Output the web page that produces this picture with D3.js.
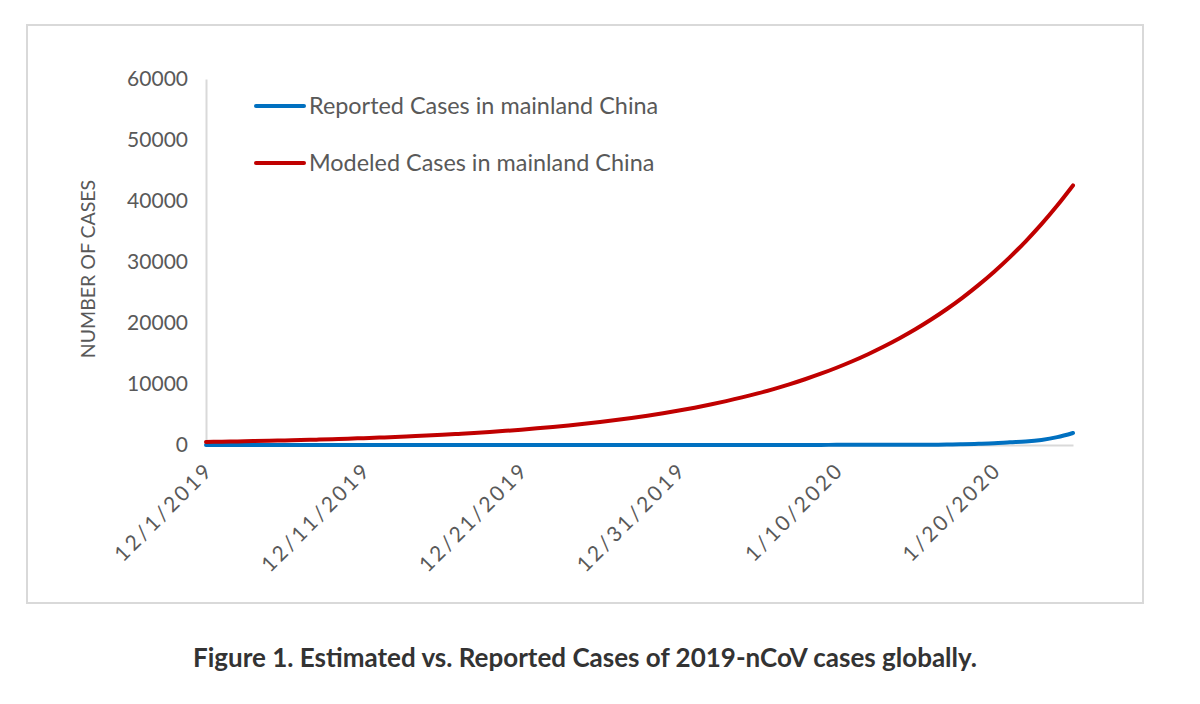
<!DOCTYPE html>
<html><head><meta charset="utf-8">
<script src="https://cdn.jsdelivr.net/npm/d3@7"></script>
<style>
body{margin:0;background:#fff;}
svg{display:block;}
</style></head>
<body>
<svg id="c" width="1200" height="704"></svg>
<script>
const startDate = "2019-12-01";
const dayCount = 56;
const modeled = [500,542,588,637,691,749,812,880,954,1035,1122,1216,1319,1430,1550,1680,1822,1975,2141,2321,2517,2729,2958,3207,3477,3770,4087,4431,4804,5208,5646,6121,6636,7195,7800,8456,9168,9939,10776,11682,12665,13731,14886,16139,17497,18969,20566,22296,24172,26207,28412,30803,33395,36205,39252,42555];
const reported = [0,0,0,0,0,0,0,0,0,0,0,0,0,0,0,0,0,0,0,0,0,0,0,0,0,0,0,0,0,0,0,0,0,0,0,0,0,0,0,0,41,41,41,41,41,41,45,62,121,198,291,440,571,830,1287,1975];
const xTickLabels = ["12/1/2019","12/11/2019","12/21/2019","12/31/2019","1/10/2020","1/20/2020"];
const yTicks = [0,10000,20000,30000,40000,50000,60000];
const seriesNames = ["Reported Cases in mainland China","Modeled Cases in mainland China"];
const seriesColors = ["#0070c0","#c00000"];
const yTitle = "NUMBER OF CASES";
const caption = "Figure 1. Estimated vs. Reported Cases of 2019-nCoV cases globally.";

const svg = d3.select("#c");
const parse = d3.timeParse("%Y-%m-%d");
const t0 = parse(startDate);
const dates = d3.range(dayCount).map(i => d3.timeDay.offset(t0, i));
const parseTick = d3.timeParse("%m/%d/%Y");
const tickDates = xTickLabels.map(s => parseTick(s));

// outer frame
svg.append("rect").attr("x",27).attr("y",25).attr("width",1116).attr("height",578)
  .attr("fill","#fff").attr("stroke","#d9d9d9").attr("stroke-width",2);

const x = d3.scaleTime().domain([dates[0], dates[dates.length-1]]).range([206,1073]);
const y = d3.scaleLinear().domain([0,60000]).range([445,79]);

const font = "Lato, 'Open Sans', sans-serif";

// y axis
const yAxis = svg.append("g").attr("transform","translate(206,0)")
  .call(d3.axisLeft(y).tickValues(yTicks).tickSize(0).tickPadding(18).tickFormat(d3.format("d")));
yAxis.select(".domain").attr("stroke","#d9d9d9").attr("stroke-width",2);
yAxis.selectAll("text").attr("font-family",font).attr("font-size",21).attr("fill","#595959");

// x axis
const xAxis = svg.append("g").attr("transform","translate(0,445)")
  .call(d3.axisBottom(x).tickValues(tickDates).tickSize(0).tickFormat((d,i)=>xTickLabels[i]));
xAxis.select(".domain").attr("stroke","#d9d9d9").attr("stroke-width",2);
xAxis.selectAll("text").attr("font-family",font).attr("font-size",21).attr("fill","#595959")
  .attr("letter-spacing","2.8px")
  .attr("text-anchor","end").attr("dy",0)
  .attr("transform","translate(6,24) rotate(-45)");

// y title
svg.append("text").attr("transform","translate(95,269) rotate(-90)")
  .attr("text-anchor","middle").attr("font-family",font).attr("font-size",19.5)
  .attr("fill","#595959").text(yTitle);

// lines
const line = d3.line().x((d,i)=>x(dates[i])).y(d=>y(d)).curve(d3.curveMonotoneX);
[reported, modeled].forEach((s,k)=>{
  svg.append("path").datum(s).attr("d",line).attr("fill","none")
    .attr("stroke",seriesColors[k]).attr("stroke-width",4).attr("stroke-linecap","round");
});

// legend
seriesNames.forEach((n,k)=>{
  const ly = 106 + k*57;
  svg.append("line").attr("x1",256).attr("x2",304).attr("y1",ly).attr("y2",ly)
    .attr("stroke",seriesColors[k]).attr("stroke-width",4).attr("stroke-linecap","round");
  svg.append("text").attr("x",309).attr("y",ly+8).attr("font-family",font).attr("font-size",23.4)
    .attr("fill","#595959").text(n);
});

// caption
svg.append("text").attr("x",585).attr("y",667).attr("text-anchor","middle")
  .attr("font-family",font).attr("font-weight","bold").attr("font-size",26)
  .attr("fill","#333").text(caption);
</script>
</body></html>
